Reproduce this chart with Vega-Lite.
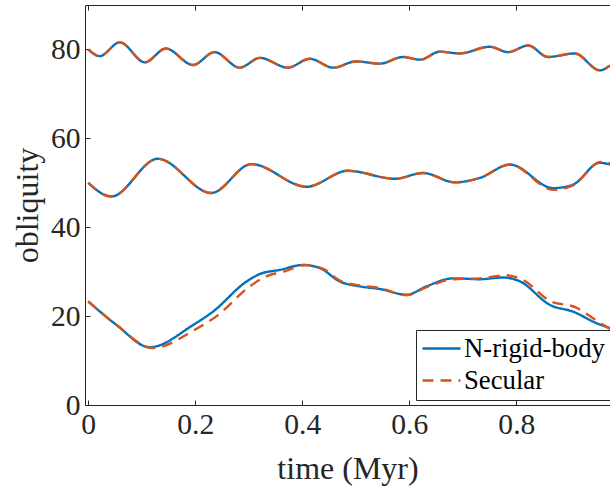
{
  "$schema": "https://vega.github.io/schema/vega-lite/v6.json",
  "width": 525,
  "height": 400,
  "autosize": "none",
  "padding": {"left": 85, "top": 5, "right": 0, "bottom": 82},
  "background": "white",
  "config": {
    "font": "Liberation Serif",
    "view": {"stroke": "transparent"},
    "axis": {
      "grid": false,
      "domainColor": "#262626",
      "tickColor": "#262626",
      "labelColor": "#262626",
      "titleColor": "#262626",
      "labelFontSize": 29.6,
      "titleFontSize": 32,
      "titleFontWeight": "normal",
      "tickSize": -5
    }
  },
  "data": {
    "values": [
      {"s": "N-rigid-body", "c": "a", "t": 0, "v": 80.0},
      {"s": "N-rigid-body", "c": "a", "t": 0.0215, "v": 78.5},
      {"s": "N-rigid-body", "c": "a", "t": 0.059, "v": 81.6},
      {"s": "N-rigid-body", "c": "a", "t": 0.106, "v": 77.1},
      {"s": "N-rigid-body", "c": "a", "t": 0.145, "v": 80.2},
      {"s": "N-rigid-body", "c": "a", "t": 0.196, "v": 76.5},
      {"s": "N-rigid-body", "c": "a", "t": 0.236, "v": 79.4},
      {"s": "N-rigid-body", "c": "a", "t": 0.283, "v": 75.9},
      {"s": "N-rigid-body", "c": "a", "t": 0.321, "v": 78.1},
      {"s": "N-rigid-body", "c": "a", "t": 0.373, "v": 75.9},
      {"s": "N-rigid-body", "c": "a", "t": 0.414, "v": 77.9},
      {"s": "N-rigid-body", "c": "a", "t": 0.458, "v": 75.9},
      {"s": "N-rigid-body", "c": "a", "t": 0.5, "v": 77.3},
      {"s": "N-rigid-body", "c": "a", "t": 0.545, "v": 76.8},
      {"s": "N-rigid-body", "c": "a", "t": 0.588, "v": 78.3},
      {"s": "N-rigid-body", "c": "a", "t": 0.62, "v": 77.7},
      {"s": "N-rigid-body", "c": "a", "t": 0.657, "v": 79.5},
      {"s": "N-rigid-body", "c": "a", "t": 0.694, "v": 79.1},
      {"s": "N-rigid-body", "c": "a", "t": 0.75, "v": 80.6},
      {"s": "N-rigid-body", "c": "a", "t": 0.785, "v": 79.4},
      {"s": "N-rigid-body", "c": "a", "t": 0.822, "v": 80.9},
      {"s": "N-rigid-body", "c": "a", "t": 0.859, "v": 78.3},
      {"s": "N-rigid-body", "c": "a", "t": 0.909, "v": 79.1},
      {"s": "N-rigid-body", "c": "a", "t": 0.956, "v": 75.3},
      {"s": "N-rigid-body", "c": "a", "t": 0.975, "v": 76.4},
      {"s": "N-rigid-body", "c": "b", "t": 0, "v": 50.0},
      {"s": "N-rigid-body", "c": "b", "t": 0.043, "v": 46.9},
      {"s": "N-rigid-body", "c": "b", "t": 0.13, "v": 55.4},
      {"s": "N-rigid-body", "c": "b", "t": 0.23, "v": 47.7},
      {"s": "N-rigid-body", "c": "b", "t": 0.305, "v": 54.2},
      {"s": "N-rigid-body", "c": "b", "t": 0.408, "v": 49.1},
      {"s": "N-rigid-body", "c": "b", "t": 0.485, "v": 52.7},
      {"s": "N-rigid-body", "c": "b", "t": 0.573, "v": 50.9},
      {"s": "N-rigid-body", "c": "b", "t": 0.626, "v": 52.2},
      {"s": "N-rigid-body", "c": "b", "t": 0.685, "v": 50.1},
      {"s": "N-rigid-body", "c": "b", "t": 0.732, "v": 51.1},
      {"s": "N-rigid-body", "c": "b", "t": 0.788, "v": 54.1},
      {"s": "N-rigid-body", "c": "b", "t": 0.869, "v": 48.8},
      {"s": "N-rigid-body", "c": "b", "t": 0.906, "v": 49.6},
      {"s": "N-rigid-body", "c": "b", "t": 0.956, "v": 54.5},
      {"s": "N-rigid-body", "c": "b", "t": 0.975, "v": 54.1},
      {"s": "N-rigid-body", "c": "c", "t": 0, "v": 23.3},
      {"s": "N-rigid-body", "c": "c", "t": 0.053, "v": 18.0},
      {"s": "N-rigid-body", "c": "c", "t": 0.115, "v": 13.0},
      {"s": "N-rigid-body", "c": "c", "t": 0.196, "v": 18.0},
      {"s": "N-rigid-body", "c": "c", "t": 0.233, "v": 21.0},
      {"s": "N-rigid-body", "c": "c", "t": 0.296, "v": 27.8},
      {"s": "N-rigid-body", "c": "c", "t": 0.321, "v": 29.5},
      {"s": "N-rigid-body", "c": "c", "t": 0.358, "v": 30.4},
      {"s": "N-rigid-body", "c": "c", "t": 0.401, "v": 31.5},
      {"s": "N-rigid-body", "c": "c", "t": 0.433, "v": 30.8},
      {"s": "N-rigid-body", "c": "c", "t": 0.47, "v": 27.8},
      {"s": "N-rigid-body", "c": "c", "t": 0.507, "v": 26.7},
      {"s": "N-rigid-body", "c": "c", "t": 0.545, "v": 26.1},
      {"s": "N-rigid-body", "c": "c", "t": 0.595, "v": 24.8},
      {"s": "N-rigid-body", "c": "c", "t": 0.632, "v": 26.7},
      {"s": "N-rigid-body", "c": "c", "t": 0.682, "v": 28.5},
      {"s": "N-rigid-body", "c": "c", "t": 0.732, "v": 28.3},
      {"s": "N-rigid-body", "c": "c", "t": 0.775, "v": 28.7},
      {"s": "N-rigid-body", "c": "c", "t": 0.807, "v": 27.8},
      {"s": "N-rigid-body", "c": "c", "t": 0.863, "v": 22.5},
      {"s": "N-rigid-body", "c": "c", "t": 0.906, "v": 21.0},
      {"s": "N-rigid-body", "c": "c", "t": 0.95, "v": 18.4},
      {"s": "N-rigid-body", "c": "c", "t": 0.975, "v": 17.3},
      {"s": "Secular", "c": "a", "t": 0, "v": 80.0},
      {"s": "Secular", "c": "a", "t": 0.0215, "v": 78.5},
      {"s": "Secular", "c": "a", "t": 0.059, "v": 81.6},
      {"s": "Secular", "c": "a", "t": 0.106, "v": 77.1},
      {"s": "Secular", "c": "a", "t": 0.145, "v": 80.2},
      {"s": "Secular", "c": "a", "t": 0.196, "v": 76.5},
      {"s": "Secular", "c": "a", "t": 0.236, "v": 79.4},
      {"s": "Secular", "c": "a", "t": 0.283, "v": 75.9},
      {"s": "Secular", "c": "a", "t": 0.321, "v": 78.1},
      {"s": "Secular", "c": "a", "t": 0.373, "v": 75.9},
      {"s": "Secular", "c": "a", "t": 0.414, "v": 77.9},
      {"s": "Secular", "c": "a", "t": 0.458, "v": 75.9},
      {"s": "Secular", "c": "a", "t": 0.5, "v": 77.3},
      {"s": "Secular", "c": "a", "t": 0.545, "v": 76.8},
      {"s": "Secular", "c": "a", "t": 0.588, "v": 78.3},
      {"s": "Secular", "c": "a", "t": 0.62, "v": 77.7},
      {"s": "Secular", "c": "a", "t": 0.657, "v": 79.5},
      {"s": "Secular", "c": "a", "t": 0.694, "v": 79.1},
      {"s": "Secular", "c": "a", "t": 0.75, "v": 80.6},
      {"s": "Secular", "c": "a", "t": 0.785, "v": 79.4},
      {"s": "Secular", "c": "a", "t": 0.822, "v": 80.9},
      {"s": "Secular", "c": "a", "t": 0.859, "v": 78.3},
      {"s": "Secular", "c": "a", "t": 0.909, "v": 79.1},
      {"s": "Secular", "c": "a", "t": 0.956, "v": 75.3},
      {"s": "Secular", "c": "a", "t": 0.975, "v": 76.4},
      {"s": "Secular", "c": "b", "t": 0, "v": 50.0},
      {"s": "Secular", "c": "b", "t": 0.043, "v": 46.9},
      {"s": "Secular", "c": "b", "t": 0.13, "v": 55.4},
      {"s": "Secular", "c": "b", "t": 0.23, "v": 47.7},
      {"s": "Secular", "c": "b", "t": 0.305, "v": 54.2},
      {"s": "Secular", "c": "b", "t": 0.408, "v": 49.1},
      {"s": "Secular", "c": "b", "t": 0.485, "v": 52.7},
      {"s": "Secular", "c": "b", "t": 0.573, "v": 50.9},
      {"s": "Secular", "c": "b", "t": 0.626, "v": 52.2},
      {"s": "Secular", "c": "b", "t": 0.685, "v": 50.1},
      {"s": "Secular", "c": "b", "t": 0.732, "v": 51.1},
      {"s": "Secular", "c": "b", "t": 0.788, "v": 54.1},
      {"s": "Secular", "c": "b", "t": 0.869, "v": 48.4},
      {"s": "Secular", "c": "b", "t": 0.906, "v": 49.4},
      {"s": "Secular", "c": "b", "t": 0.958, "v": 54.7},
      {"s": "Secular", "c": "b", "t": 0.975, "v": 54.4},
      {"s": "Secular", "c": "c", "t": 0, "v": 23.3},
      {"s": "Secular", "c": "c", "t": 0.053, "v": 18.0},
      {"s": "Secular", "c": "c", "t": 0.12, "v": 12.8},
      {"s": "Secular", "c": "c", "t": 0.2, "v": 17.0},
      {"s": "Secular", "c": "c", "t": 0.24, "v": 20.0},
      {"s": "Secular", "c": "c", "t": 0.3, "v": 26.5},
      {"s": "Secular", "c": "c", "t": 0.33, "v": 28.8},
      {"s": "Secular", "c": "c", "t": 0.37, "v": 30.2},
      {"s": "Secular", "c": "c", "t": 0.405, "v": 31.5},
      {"s": "Secular", "c": "c", "t": 0.44, "v": 30.6},
      {"s": "Secular", "c": "c", "t": 0.47, "v": 28.0},
      {"s": "Secular", "c": "c", "t": 0.507, "v": 26.9},
      {"s": "Secular", "c": "c", "t": 0.545, "v": 26.3},
      {"s": "Secular", "c": "c", "t": 0.595, "v": 24.7},
      {"s": "Secular", "c": "c", "t": 0.632, "v": 26.5},
      {"s": "Secular", "c": "c", "t": 0.682, "v": 28.3},
      {"s": "Secular", "c": "c", "t": 0.732, "v": 28.5},
      {"s": "Secular", "c": "c", "t": 0.78, "v": 29.2},
      {"s": "Secular", "c": "c", "t": 0.81, "v": 28.3},
      {"s": "Secular", "c": "c", "t": 0.865, "v": 23.3},
      {"s": "Secular", "c": "c", "t": 0.91, "v": 22.0},
      {"s": "Secular", "c": "c", "t": 0.95, "v": 19.0},
      {"s": "Secular", "c": "c", "t": 0.975, "v": 17.1}
    ]
  },
  "resolve": {"axis": {"x": "independent"}},
  "layer": [
    {
      "transform": [{"filter": "datum.s === 'N-rigid-body'"}],
      "mark": {"type": "line", "interpolate": "monotone", "strokeWidth": 2.4},
      "encoding": {
        "x": {
          "field": "t", "type": "quantitative",
          "scale": {"domain": [-0.006, 0.975], "nice": false, "zero": false},
          "axis": {
            "orient": "bottom", "values": [0, 0.2, 0.4, 0.6, 0.8], "format": "~g",
            "labelPadding": 10, "title": "time (Myr)",
            "labelFont": "Liberation Serif", "titleFont": "Liberation Serif",
            "titleBaseline": "alphabetic", "titleY": 73
          }
        },
        "y": {
          "field": "v", "type": "quantitative",
          "scale": {"domain": [0, 90], "nice": false},
          "axis": {
            "values": [0, 20, 40, 60, 80], "labelPadding": 10,
            "labelFont": "Liberation Serif", "titleFont": "Liberation Serif",
            "title": "obliquity", "titleBaseline": "alphabetic",
            "titleX": -48, "titleY": 200, "titleAngle": -90, "titleAlign": "center"
          }
        },
        "detail": {"field": "c"},
        "color": {
          "field": "s", "type": "nominal",
          "scale": {"domain": ["N-rigid-body", "Secular"], "range": ["#0072BD", "#D95319"]},
          "legend": {
            "orient": "none", "legendX": 331, "legendY": 325, "title": null,
            "strokeColor": "#262626", "fillColor": "white", "padding": 5,
            "symbolType": "stroke", "symbolSize": 1444, "symbolStrokeWidth": 2.5,
            "clipHeight": 27,
            "labelFontSize": 26.7, "labelColor": "#000000", "labelOffset": 2, "labelFont": "Liberation Serif",
            "rowPadding": 4, "cornerRadius": 0
          }
        },
        "strokeDash": {
          "field": "s", "type": "nominal",
          "scale": {"domain": ["N-rigid-body", "Secular"], "range": [[1, 0], [11, 7]]},
          "legend": {
            "orient": "none", "legendX": 331, "legendY": 325, "title": null,
            "strokeColor": "#262626", "fillColor": "white", "padding": 5,
            "symbolType": "stroke", "symbolSize": 1444, "symbolStrokeWidth": 2.5,
            "clipHeight": 27,
            "labelFontSize": 26.7, "labelColor": "#000000", "labelOffset": 2, "labelFont": "Liberation Serif",
            "rowPadding": 4, "cornerRadius": 0
          }
        }
      }
    },
    {
      "transform": [{"filter": "datum.s === 'Secular'"}],
      "mark": {"type": "line", "interpolate": "monotone", "strokeWidth": 2.4},
      "encoding": {
        "x": {
          "field": "t", "type": "quantitative",
          "axis": {"orient": "top", "values": [0, 0.2, 0.4, 0.6, 0.8], "labels": false, "title": null}
        },
        "y": {"field": "v", "type": "quantitative"},
        "detail": {"field": "c"},
        "color": {"field": "s", "type": "nominal"},
        "strokeDash": {"field": "s", "type": "nominal"}
      }
    }
  ]
}
